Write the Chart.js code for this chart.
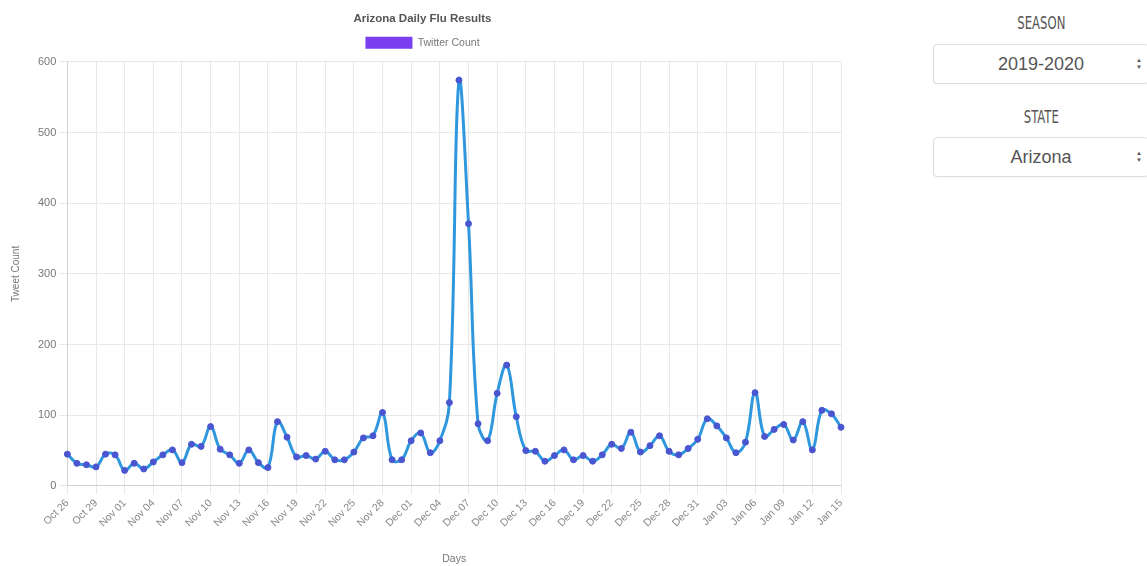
<!DOCTYPE html>
<html>
<head>
<meta charset="utf-8">
<script src="https://cdn.jsdelivr.net/npm/chart.js@4.4.1/dist/chart.umd.min.js"></script>
<style>
  html, body { margin: 0; padding: 0; background: #fff; }
  body { width: 1147px; height: 566px; position: relative; overflow: hidden; font-family: 'Liberation Sans', Arial, sans-serif; }
  #wrap { position: absolute; left: 0; top: 0; width: 860px; height: 566px; }
  .side-label { position: absolute; left: 933px; width: 216px; text-align: center; color: #555;
    font-family: 'DejaVu Sans Condensed', 'Liberation Sans Narrow', sans-serif; font-size: 18px; line-height: 20px; }
  .side-label span { display: inline-block; transform: scaleX(0.72); }
  .fake-select { position: absolute; left: 933px; width: 216px; height: 40px; box-sizing: border-box;
    border: 1px solid #dedede; border-radius: 4px; background: #fff; color: #555;
    font-size: 18px; line-height: 38px; text-align: center; box-shadow: 0 1px 2px rgba(0,0,0,0.04); }
  .arrows { position: absolute; right: 5px; top: 12px; width: 8px; font-size: 6px; line-height: 7px; color: #555; text-align: center; }
</style>
</head>
<body>
<div id="wrap"><canvas id="fluChart"></canvas></div>

<div class="side-label" style="top:13px;"><span>SEASON</span></div>
<div class="fake-select" style="top:44px;">2019-2020<div class="arrows">▲<br>▼</div></div>
<div class="side-label" style="top:107px;"><span>STATE</span></div>
<div class="fake-select" style="top:137px;">Arizona<div class="arrows">▲<br>▼</div></div>

<script>
// Arizona Daily Flu Results — tweets per day, Oct 26 to Jan 15
const days = [
  'Oct 26', 'Oct 27', 'Oct 28', 'Oct 29', 'Oct 30', 'Oct 31',
  'Nov 01', 'Nov 02', 'Nov 03', 'Nov 04', 'Nov 05', 'Nov 06', 'Nov 07', 'Nov 08', 'Nov 09', 'Nov 10',
  'Nov 11', 'Nov 12', 'Nov 13', 'Nov 14', 'Nov 15', 'Nov 16', 'Nov 17', 'Nov 18', 'Nov 19', 'Nov 20',
  'Nov 21', 'Nov 22', 'Nov 23', 'Nov 24', 'Nov 25', 'Nov 26', 'Nov 27', 'Nov 28', 'Nov 29', 'Nov 30',
  'Dec 01', 'Dec 02', 'Dec 03', 'Dec 04', 'Dec 05', 'Dec 06', 'Dec 07', 'Dec 08', 'Dec 09', 'Dec 10',
  'Dec 11', 'Dec 12', 'Dec 13', 'Dec 14', 'Dec 15', 'Dec 16', 'Dec 17', 'Dec 18', 'Dec 19', 'Dec 20',
  'Dec 21', 'Dec 22', 'Dec 23', 'Dec 24', 'Dec 25', 'Dec 26', 'Dec 27', 'Dec 28', 'Dec 29', 'Dec 30',
  'Dec 31', 'Jan 01', 'Jan 02', 'Jan 03', 'Jan 04', 'Jan 05', 'Jan 06', 'Jan 07', 'Jan 08', 'Jan 09',
  'Jan 10', 'Jan 11', 'Jan 12', 'Jan 13', 'Jan 14', 'Jan 15',
];

const tweetCounts = [
  45, 32, 30, 27, 45, 44,
  22, 32, 24, 34, 44, 51, 33, 59, 56, 84,
  52, 44, 32, 51, 33, 26, 91, 69, 41, 43,
  38, 49, 37, 37, 48, 68, 71, 104, 37, 37,
  64, 75, 47, 64, 118, 574, 371, 88, 64, 131,
  171, 98, 50, 49, 35, 43, 51, 37, 43, 35,
  44, 59, 53, 76, 48, 57, 71, 49, 44, 53,
  66, 95, 85, 68, 47, 62, 132, 70, 80, 87,
  65, 91, 51, 107, 102, 83,
];

const yTicks = [0, 100, 200, 300, 400, 500, 600];

// a bit more room under the legend, like the original page
const legendGap = {
  id: 'legendGap',
  beforeInit(chart) {
    const origFit = chart.legend.fit;
    chart.legend.fit = function () {
      origFit.bind(chart.legend)();
      this.height += 3;
    };
  },
};

const font = "'Liberation Sans', Arial, sans-serif";
const ctx = document.getElementById('fluChart').getContext('2d');
new Chart(ctx, {
  type: 'line',
  data: {
    labels: days,
    datasets: [{
      label: 'Twitter Count',
      data: tweetCounts,
      borderColor: '#2e97dd',
      backgroundColor: '#7b3ff0',
      borderWidth: 3,
      tension: 0.4,
      fill: false,
      pointRadius: 3,
      pointBackgroundColor: '#4a55d0',
      pointBorderColor: '#4a55d0',
      pointBorderWidth: 1,
    }],
  },
  plugins: [legendGap],
  options: {
    responsive: true,
    maintainAspectRatio: false,
    animation: false,
    layout: { padding: { left: 4, right: 19, top: 2, bottom: 0 } },
    plugins: {
      title: {
        display: true,
        text: 'Arizona Daily Flu Results',
        color: '#555',
        font: { family: font, size: 11.5, weight: 'bold' },
        padding: { top: 10, bottom: 1 },
      },
      legend: {
        labels: {
          color: '#777',
          font: { family: font, size: 10.5 },
          boxWidth: 47,
          boxHeight: 12,
          generateLabels: function (chart) {
            const items = Chart.defaults.plugins.legend.labels.generateLabels(chart);
            items.forEach(it => { it.lineWidth = 0; it.strokeStyle = 'rgba(0,0,0,0)'; });
            return items;
          },
        },
      },
    },
    scales: {
      x: {
        grid: { color: '#e8e8e8' },
        ticks: {
          autoSkip: false,
          maxRotation: 45,
          minRotation: 45,
          color: '#888',
          font: { family: font, size: 10.5 },
          callback: function (v, i) { return i % 3 === 0 ? days[i] : null; },
        },
        title: {
          display: true,
          text: 'Days',
          color: '#777',
          font: { family: font, size: 10.5 },
          padding: { top: 20, bottom: 1 },
        },
      },
      y: {
        min: yTicks[0],
        max: yTicks[yTicks.length - 1],
        grid: { color: '#e8e8e8' },
        ticks: {
          stepSize: 100,
          color: '#777',
          font: { family: font, size: 11 },
          padding: 3,
        },
        title: {
          display: true,
          text: 'Tweet Count',
          color: '#777',
          font: { family: font, size: 10 },
          padding: { top: 6, bottom: 13 },
        },
      },
    },
  },
});
</script>
</body>
</html>
